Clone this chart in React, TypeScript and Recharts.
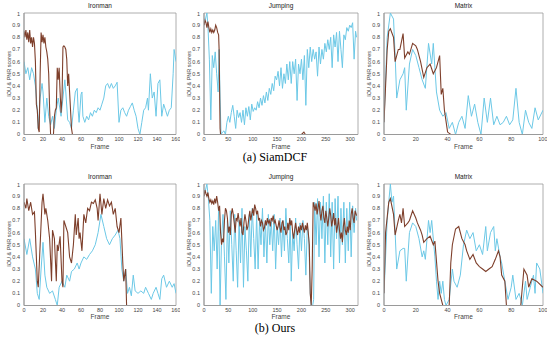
import { LineChart, Line, XAxis, YAxis, ReferenceArea } from "recharts";

type Pt = [number, number];

// axis ticks
const yTicks = [0, 0.1, 0.2, 0.3, 0.4, 0.5, 0.6, 0.7, 0.8, 0.9, 1];
const ironmanTicks = [0, 20, 40, 60, 80, 100, 120, 140, 160];
const jumpingTicks = [0, 50, 100, 150, 200, 250, 300];
const matrixTicks = [0, 20, 40, 60, 80, 100];

// (a) SiamDCF — [frame, score]
const dcfIronmanIou: Pt[] = [
  [0, 0.85], [1, 0.8], [2, 0.86], [3, 0.78], [4, 0.84], [5, 0.76], [6, 0.86], [7, 0.75], [8, 0.8], [9, 0.72],
  [10, 0.8], [11, 0.75], [12, 0.6], [13, 0.25], [14, 0.2], [15, 0.05], [16, 0.02], [17, 0.5], [18, 0.84], [19, 0.76],
  [20, 0.82], [21, 0.75], [22, 0.8], [23, 0.72], [24, 0.68], [25, 0.62], [26, 0.5], [27, 0.2], [28, 0], [31, 0],
  [32, 0.15], [33, 0.2], [34, 0.22], [35, 0.55], [36, 0.45], [37, 0.55], [38, 0.35], [39, 0.18], [40, 0.3], [41, 0.72],
  [42, 0.73], [43, 0.72], [44, 0.7], [45, 0.62], [46, 0.4], [47, 0.5], [48, 0.35], [49, 0.2], [50, 0.05], [51, 0], [160, 0],
];
const dcfIronmanPnr: Pt[] = [
  [0, 0.6], [2, 0.5], [4, 0.55], [6, 0.45], [8, 0.55], [10, 0.5], [12, 0.4], [14, 0.2], [15, 0.05], [17, 0.3],
  [19, 0.42], [20, 0.35], [22, 0.1], [24, 0.3], [26, 0.15], [28, 0.08], [30, 0.15], [32, 0.05], [34, 0.2], [36, 0.3],
  [37, 0.25], [39, 0.15], [41, 0.3], [43, 0.45], [44, 0.35], [46, 0.12], [48, 0.1], [50, 0.05], [52, 0.2], [54, 0.35],
  [56, 0.38], [57, 0.2], [58, 0.1], [60, 0.33], [61, 0.35], [62, 0.15], [64, 0.1], [66, 0.15], [68, 0.12], [70, 0.18],
  [72, 0.15], [74, 0.2], [76, 0.18], [78, 0.22], [80, 0.2], [82, 0.25], [84, 0.3], [86, 0.4], [88, 0.42], [90, 0.38],
  [92, 0.42], [94, 0.38], [96, 0.4], [98, 0.43], [100, 0.1], [102, 0.2], [104, 0.22], [106, 0.18], [108, 0.15], [110, 0.2],
  [112, 0.23], [114, 0.26], [116, 0.2], [118, 0.15], [120, 0.05], [122, 0], [124, 0.1], [126, 0.2], [128, 0.22], [130, 0.3],
  [131, 0.2], [133, 0.5], [135, 0.3], [137, 0.35], [139, 0.15], [141, 0.42], [143, 0.45], [145, 0.15], [147, 0.25], [149, 0.2],
  [151, 0.15], [153, 0.2], [155, 0.22], [157, 0.5], [158, 0.7], [160, 0.6],
];
const dcfJumpingIou: Pt[] = [
  [0, 0.9], [2, 0.94], [4, 0.92], [6, 0.88], [8, 0.93], [10, 0.88], [12, 0.84], [14, 0.87], [16, 0.84], [18, 0.86],
  [20, 0.84], [22, 0.86], [24, 0.9], [26, 0.88], [28, 0.84], [30, 0.82], [31, 0.7], [33, 0.05], [34, 0], [200, 0],
  [205, 0.02], [208, 0], [313, 0],
];
const dcfJumpingPnr: Pt[] = [
  [0, 0.9], [3, 0.95], [6, 1], [8, 0.9], [11, 0.62], [14, 0.12], [17, 0.65], [20, 0.55], [23, 0.68], [26, 0.5],
  [29, 0.35], [31, 0.7], [33, 0.3], [35, 0], [38, 0.02], [41, 0.03], [44, 0], [47, 0.1], [50, 0.15], [53, 0.1],
  [56, 0.18], [59, 0.24], [62, 0.15], [65, 0.05], [68, 0.2], [71, 0.14], [74, 0.18], [77, 0.1], [80, 0.2], [83, 0.08],
  [86, 0.22], [89, 0.15], [92, 0.23], [95, 0.12], [98, 0.25], [101, 0.19], [104, 0.22], [107, 0.2], [110, 0.27], [113, 0.22],
  [116, 0.3], [119, 0.24], [122, 0.32], [125, 0.26], [128, 0.35], [131, 0.28], [134, 0.38], [137, 0.33], [140, 0.42], [143, 0.36],
  [146, 0.48], [149, 0.45], [152, 0.52], [155, 0.4], [158, 0.55], [161, 0.38], [164, 0.5], [167, 0.42], [170, 0.58], [173, 0.45],
  [176, 0.6], [179, 0.42], [182, 0.6], [185, 0.5], [188, 0.62], [191, 0.28], [194, 0.58], [197, 0.5], [200, 0.62], [203, 0.45],
  [206, 0.65], [209, 0.24], [212, 0.7], [215, 0.55], [218, 0.72], [221, 0.6], [224, 0.7], [227, 0.62], [230, 0.68], [233, 0.48],
  [236, 0.72], [239, 0.58], [242, 0.7], [245, 0.62], [248, 0.75], [251, 0.68], [254, 0.78], [257, 0.7], [260, 0.8], [263, 0.55],
  [266, 0.82], [269, 0.72], [272, 0.84], [275, 0.6], [278, 0.85], [281, 0.7], [284, 0.55], [287, 0.82], [290, 0.78], [293, 0.88],
  [296, 0.85], [299, 0.9], [302, 0.88], [305, 0.92], [308, 0.62], [311, 0.85], [313, 0.8],
];
const dcfMatrixIou: Pt[] = [
  [0, 0.1], [2, 0.7], [3, 0.85], [4, 0.87], [6, 0.8], [7, 0.6], [9, 0.7], [10, 0.7], [12, 0.83], [13, 0.63],
  [15, 0.68], [16, 0.66], [18, 0.75], [20, 0.73], [21, 0.7], [23, 0.6], [25, 0.47], [27, 0.55], [29, 0.58], [31, 0.5],
  [33, 0.55], [35, 0.65], [36, 0.33], [37, 0.38], [38, 0.2], [40, 0.02], [42, 0], [100, 0],
];
const dcfMatrixPnr: Pt[] = [
  [0, 0.1], [2, 0.8], [4, 1], [6, 0.95], [7, 0.65], [8, 0.3], [10, 0.45], [12, 0.5], [13, 0.55], [14, 0.2],
  [16, 0.58], [18, 0.7], [20, 0.65], [22, 0.55], [24, 0.45], [26, 0.38], [28, 0.75], [30, 0.58], [31, 0.75], [33, 0.35],
  [35, 0.2], [37, 0.15], [39, 0.18], [41, 0.05], [43, 0.1], [45, 0], [47, 0.1], [49, 0.15], [51, 0.05], [53, 0.32],
  [55, 0.15], [57, 0.25], [59, 0.1], [61, 0], [63, 0.3], [65, 0.1], [67, 0.3], [69, 0.08], [71, 0.15], [73, 0.08],
  [75, 0.1], [77, 0.15], [79, 0.08], [81, 0.12], [83, 0.38], [85, 0.1], [87, 0], [89, 0.2], [91, 0.1], [93, 0.05],
  [95, 0.22], [97, 0.12], [100, 0.2],
];

// (b) Ours — [frame, score]
const oursIronmanIou: Pt[] = [
  [0, 0.85], [2, 0.8], [3, 0.88], [5, 0.78], [7, 0.85], [9, 0.75], [11, 0.77], [12, 0.6], [14, 0.2], [15, 0.15],
  [17, 0.5], [19, 0.85], [20, 0.92], [22, 0.75], [23, 0.8], [25, 0.7], [27, 0.55], [29, 0.2], [30, 0.62], [32, 0.55],
  [34, 0.2], [35, 0.5], [36, 0.45], [38, 0.57], [40, 0.2], [41, 0.15], [42, 0.7], [44, 0.65], [46, 0.6], [48, 0.4],
  [50, 0.35], [52, 0.5], [54, 0.75], [55, 0.58], [57, 0.72], [58, 0.55], [59, 0.6], [61, 0.45], [63, 0.75], [65, 0.68],
  [67, 0.8], [69, 0.78], [71, 0.85], [73, 0.84], [75, 0.87], [77, 0.8], [78, 0.7], [80, 0.92], [82, 0.75], [84, 0.88],
  [86, 0.8], [88, 0.87], [90, 0.82], [92, 0.85], [94, 0.75], [96, 0.8], [98, 0.65], [100, 0.6], [102, 0.72], [104, 0.35],
  [105, 0.2], [107, 0.3], [108, 0], [160, 0],
];
const oursIronmanPnr: Pt[] = [
  [0, 0.55], [3, 0.42], [6, 0.55], [9, 0.4], [12, 0.3], [14, 0.1], [16, 0.05], [18, 0.3], [20, 0.52], [22, 0.25],
  [24, 0.15], [27, 0.1], [30, 0.12], [33, 0.05], [35, 0], [37, 0.15], [40, 0.2], [43, 0.15], [45, 0.25], [48, 0.2],
  [50, 0.28], [53, 0.3], [56, 0.35], [58, 0.3], [60, 0.35], [63, 0.4], [66, 0.38], [69, 0.42], [72, 0.45], [75, 0.5],
  [78, 0.6], [81, 0.75], [84, 0.65], [87, 0.55], [90, 0.5], [93, 0.55], [96, 0.58], [99, 0.62], [101, 0.55], [103, 0.3],
  [105, 0.2], [107, 0.3], [109, 0.1], [111, 0.15], [113, 0.08], [115, 0.25], [117, 0.12], [120, 0.1], [123, 0.12], [126, 0.1],
  [128, 0.15], [131, 0.1], [134, 0.05], [136, 0.1], [139, 0.15], [141, 0.1], [143, 0.05], [145, 0.22], [147, 0.25], [150, 0.15],
  [153, 0.2], [156, 0.15], [158, 0.18], [160, 0.1],
];
const oursJumpingIou: Pt[] = [
  [0, 0.9], [2, 0.95], [4, 0.92], [6, 0.9], [8, 0.93], [10, 0.88], [12, 0.85], [14, 0.87], [16, 0.84], [18, 0.86],
  [20, 0.83], [22, 0.88], [24, 0.84], [26, 0.9], [28, 0.85], [30, 0.78], [32, 0.82], [34, 0.6], [36, 0.5], [38, 0.55],
  [40, 0.52], [42, 0.7], [44, 0.8], [46, 0.78], [48, 0.72], [50, 0.6], [52, 0.65], [54, 0.58], [56, 0.75], [58, 0.8],
  [60, 0.75], [62, 0.68], [64, 0.6], [66, 0.72], [68, 0.7], [70, 0.76], [72, 0.7], [74, 0.65], [76, 0.72], [78, 0.6],
  [80, 0.58], [82, 0.68], [84, 0.75], [86, 0.7], [88, 0.62], [90, 0.65], [92, 0.72], [94, 0.78], [96, 0.7], [98, 0.75],
  [100, 0.8], [102, 0.74], [104, 0.83], [106, 0.8], [108, 0.75], [110, 0.78], [112, 0.7], [114, 0.72], [116, 0.65], [118, 0.7],
  [120, 0.68], [122, 0.62], [124, 0.64], [126, 0.7], [128, 0.66], [130, 0.72], [132, 0.68], [134, 0.7], [136, 0.65], [138, 0.72],
  [140, 0.7], [142, 0.74], [144, 0.68], [146, 0.7], [148, 0.66], [150, 0.62], [152, 0.65], [154, 0.7], [156, 0.64], [158, 0.6],
  [160, 0.68], [162, 0.7], [164, 0.62], [166, 0.65], [168, 0.58], [170, 0.6], [172, 0.68], [174, 0.62], [176, 0.72], [178, 0.66],
  [180, 0.7], [182, 0.6], [184, 0.55], [186, 0.62], [188, 0.68], [190, 0.62], [192, 0.58], [194, 0.65], [196, 0.6], [198, 0.66],
  [200, 0.62], [202, 0.68], [204, 0.64], [206, 0.6], [208, 0.66], [210, 0.62], [212, 0.68], [214, 0.6], [216, 0.5], [218, 0.1],
  [220, 0], [222, 0.3], [224, 0.85], [226, 0.82], [228, 0.78], [230, 0.84], [232, 0.75], [234, 0.8], [236, 0.86], [238, 0.76],
  [240, 0.7], [242, 0.78], [244, 0.82], [246, 0.72], [248, 0.68], [250, 0.78], [252, 0.72], [254, 0.65], [256, 0.72], [258, 0.8],
  [260, 0.74], [262, 0.65], [264, 0.7], [266, 0.76], [268, 0.66], [270, 0.72], [272, 0.6], [274, 0.65], [276, 0.72], [278, 0.62],
  [280, 0.55], [282, 0.6], [284, 0.52], [286, 0.65], [288, 0.72], [290, 0.62], [292, 0.58], [294, 0.65], [296, 0.6], [298, 0.7],
  [300, 0.62], [302, 0.75], [304, 0.8], [306, 0.72], [308, 0.68], [310, 0.78], [313, 0.74],
];
const oursJumpingPnr: Pt[] = [
  [0, 0.9], [3, 0.95], [6, 1], [9, 0.88], [12, 0.7], [15, 0.1], [18, 0.65], [21, 0.45], [24, 0.7], [27, 0.3],
  [30, 0.8], [33, 0], [36, 0.55], [39, 0.75], [42, 0.4], [45, 0.05], [48, 0.7], [51, 0.35], [54, 0.78], [57, 0.5],
  [60, 0.2], [63, 0.75], [66, 0.45], [69, 0.15], [72, 0.7], [75, 0.35], [78, 0.8], [81, 0.15], [84, 0.65], [87, 0.45],
  [90, 0.2], [93, 0.75], [96, 0.4], [99, 0.8], [102, 0.55], [105, 0.3], [108, 0.75], [111, 0.3], [114, 0.7], [117, 0.5],
  [120, 0.8], [123, 0.4], [126, 0.7], [129, 0.35], [132, 0.75], [135, 0.5], [138, 0.7], [141, 0.45], [144, 0.75], [147, 0.3],
  [150, 0.65], [153, 0.5], [156, 0.72], [159, 0.4], [162, 0.7], [165, 0.45], [168, 0.8], [171, 0.55], [174, 0.35], [177, 0.7],
  [179, 0.2], [182, 0.6], [185, 0.45], [188, 0.72], [191, 0.5], [194, 0.3], [197, 0.68], [200, 0.45], [203, 0.7], [206, 0.55],
  [209, 0.25], [212, 0.65], [215, 0.55], [218, 0.1], [220, 0], [223, 0], [225, 0.05], [227, 0.85], [230, 0.5], [233, 0.88],
  [236, 0.4], [239, 0.85], [242, 0.55], [245, 0.9], [248, 0.35], [251, 0.85], [254, 0.5], [257, 0.92], [260, 0.4], [263, 0.85],
  [266, 0.3], [269, 0.88], [272, 0.55], [275, 0.9], [278, 0.35], [281, 0.8], [284, 0.5], [287, 0.85], [290, 0.35], [293, 0.8],
  [296, 0.45], [299, 0.85], [302, 0.4], [305, 0.82], [308, 0.6], [311, 0.8], [313, 0.7],
];
const oursMatrixIou: Pt[] = [
  [0, 0.1], [1, 0.6], [3, 0.85], [4, 0.88], [6, 0.75], [7, 0.58], [9, 0.7], [10, 0.75], [11, 0.68], [12, 0.8],
  [13, 0.65], [15, 0.68], [16, 0.7], [18, 0.78], [20, 0.72], [21, 0.68], [23, 0.62], [24, 0.58], [25, 0.52], [27, 0.55],
  [29, 0.57], [31, 0.5], [32, 0.53], [34, 0.2], [35, 0.1], [36, 0.05], [37, 0], [41, 0], [42, 0.35], [43, 0.5],
  [45, 0.63], [47, 0.65], [49, 0.55], [51, 0.5], [52, 0.45], [54, 0.38], [56, 0.42], [58, 0.35], [60, 0.32], [62, 0.3],
  [64, 0.28], [66, 0.3], [68, 0.32], [70, 0.38], [72, 0.45], [73, 0.4], [74, 0.25], [76, 0.2], [77, 0], [86, 0],
  [88, 0.3], [90, 0.25], [91, 0.15], [93, 0.22], [96, 0.2], [100, 0.15],
];
const oursMatrixPnr: Pt[] = [
  [0, 0.1], [2, 0.7], [4, 1], [5, 0.85], [6, 0.9], [7, 0.6], [8, 0.3], [10, 0.45], [12, 0.47], [13, 0.47],
  [14, 0.2], [16, 0.6], [18, 0.68], [20, 0.65], [22, 0.55], [24, 0.4], [25, 0.45], [26, 0.38], [28, 0.7], [29, 0.6],
  [30, 0.7], [32, 0.4], [33, 0.2], [34, 0.05], [35, 0.2], [36, 0.1], [37, 0.2], [38, 0.05], [39, 0], [41, 0.05],
  [43, 0.3], [44, 0.2], [46, 0.15], [48, 0.25], [50, 0.5], [52, 0.62], [54, 0.55], [56, 0.6], [58, 0.45], [60, 0.5],
  [62, 0.42], [64, 0.65], [65, 0.45], [67, 0.6], [69, 0.65], [70, 0.45], [71, 0.55], [73, 0.4], [74, 0.35], [76, 0.2],
  [78, 0.05], [80, 0.15], [81, 0.25], [83, 0.05], [85, 0.1], [87, 0], [89, 0.2], [90, 0.05], [92, 0.15], [94, 0.25],
  [95, 0.1], [96, 0.35], [98, 0.3], [100, 0.1],
];

const RED = "#7e3f2b";
const CYAN = "#6cc8e6";
const AXIS = "#9a9a9a";
const TXT = "#444";
const FONT = "'Liberation Sans', Arial, sans-serif";

const toRows = (pts: Pt[]) => pts.map(([frame, v]) => ({ frame, v }));

interface PanelProps {
  x: number; // plot area left
  y: number; // plot area top
  w: number;
  h: number;
  title: string;
  xMax: number;
  xTicks: number[];
  iou: Pt[];
  pnr: Pt[];
}

const Panel = ({ x, y, w, h, title, xMax, xTicks, iou, pnr }: PanelProps) => {
  const padL = 22, padT = 2, padR = 4, padB = 16;
  const tickStyle = { fontSize: 5.5, fill: TXT, fontFamily: FONT };
  return (
    <>
      <div style={{ position: "absolute", left: x, width: w, top: y - 11, textAlign: "center", fontSize: 6.5, fontFamily: FONT, color: "#222" }}>
        {title}
      </div>
      <div style={{ position: "absolute", left: x, width: w, top: y + h + 8, textAlign: "center", fontSize: 6.5, fontFamily: FONT, color: TXT }}>
        Frame
      </div>
      {/* rotated y label, centred on the plot height */}
      <div
        style={{
          position: "absolute", left: x - 19, top: y, width: 8, height: h,
          display: "flex", alignItems: "center", justifyContent: "center",
        }}
      >
        <span
          style={{
            writingMode: "vertical-rl", transform: "rotate(180deg)", whiteSpace: "nowrap",
            fontSize: 5.5, fontFamily: FONT, color: TXT, lineHeight: "7px",
          }}
        >
          IOU &amp; PNR scores
        </span>
      </div>
      <div style={{ position: "absolute", left: x - padL, top: y - padT }}>
        <LineChart width={w + padL + padR} height={h + padT + padB} margin={{ top: padT, right: padR, left: 0, bottom: 0 }}>
          <XAxis
            type="number" dataKey="frame" domain={[0, xMax]} ticks={xTicks} height={padB}
            tick={tickStyle} tickLine={false} tickSize={2} tickMargin={1} stroke={AXIS} allowDataOverflow
          />
          <YAxis
            type="number" domain={[0, 1]} ticks={yTicks} width={padL} tickFormatter={(v: number) => String(v)}
            tick={tickStyle} tickLine={false} tickSize={3} tickMargin={1} stroke={AXIS} allowDataOverflow
          />
          <ReferenceArea x1={0} x2={xMax} y1={0} y2={1} fill="none" stroke={AXIS} strokeWidth={0.8} />
          <Line data={toRows(pnr)} dataKey="v" stroke={CYAN} strokeWidth={1} dot={false} isAnimationActive={false} />
          <Line data={toRows(iou)} dataKey="v" stroke={RED} strokeWidth={1.1} dot={false} isAnimationActive={false} />
        </LineChart>
      </div>
    </>
  );
};

export default function App() {
  const top1 = 13, top2 = 183.5, h = 121.5;
  return (
    <div style={{ position: "absolute", left: 0, top: 0, width: 550, height: 341, background: "#fff", overflow: "hidden" }}>
      <Panel x={24} y={top1} w={152} h={h} title="Ironman" xMax={160} xTicks={ironmanTicks} iou={dcfIronmanIou} pnr={dcfIronmanPnr} />
      <Panel x={204} y={top1} w={154} h={h} title="Jumping" xMax={316} xTicks={jumpingTicks} iou={dcfJumpingIou} pnr={dcfJumpingPnr} />
      <Panel x={384} y={top1} w={159} h={h} title="Matrix" xMax={100} xTicks={matrixTicks} iou={dcfMatrixIou} pnr={dcfMatrixPnr} />
      <div style={{ position: "absolute", left: 0, width: 550, top: 150, textAlign: "center", fontSize: 12, fontFamily: "'Liberation Serif', 'Times New Roman', serif" }}>
        (a) SiamDCF
      </div>
      <Panel x={24} y={top2} w={152} h={h} title="Ironman" xMax={160} xTicks={ironmanTicks} iou={oursIronmanIou} pnr={oursIronmanPnr} />
      <Panel x={204} y={top2} w={154} h={h} title="Jumping" xMax={316} xTicks={jumpingTicks} iou={oursJumpingIou} pnr={oursJumpingPnr} />
      <Panel x={384} y={top2} w={159} h={h} title="Matrix" xMax={100} xTicks={matrixTicks} iou={oursMatrixIou} pnr={oursMatrixPnr} />
      <div style={{ position: "absolute", left: 0, width: 550, top: 321, textAlign: "center", fontSize: 12, fontFamily: "'Liberation Serif', 'Times New Roman', serif" }}>
        (b) Ours
      </div>
    </div>
  );
}
